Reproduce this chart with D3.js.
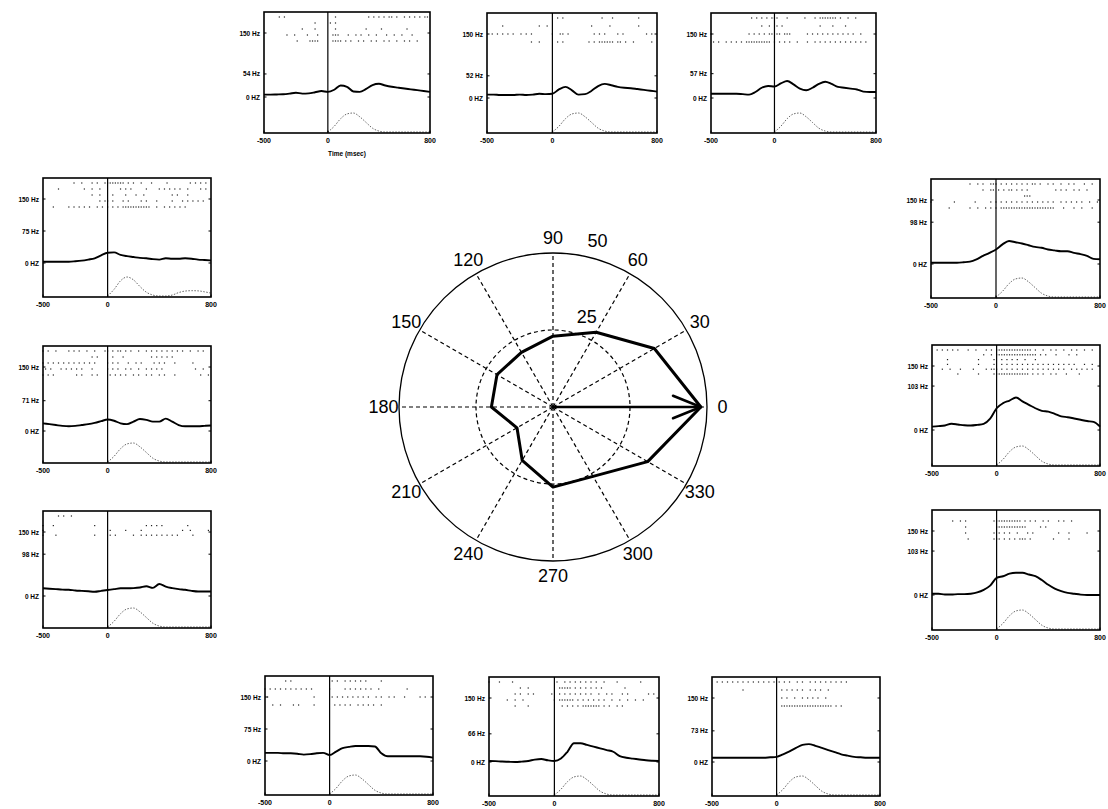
<!DOCTYPE html>
<html>
<head>
<meta charset="utf-8">
<script src="https://cdn.jsdelivr.net/npm/d3@7"></script>
<style>
  body { margin: 0; background: #fff; }
  svg { display: block; font-family: "Liberation Sans", Arial, sans-serif; }
  text { fill: #000; }
</style>
</head>
<body>
<div id="chart"></div>
<script>
// ---- polar tuning data ----
const directions = [0, 30, 60, 90, 120, 150, 180, 210, 240, 270, 300, 330];
const tuningRates = [48, 38, 28, 23, 20.5, 21, 20, 13.5, 20, 26, 26, 35.5];
const radialTicks = [25, 50];
const vectorAngle = 0;
const vectorLength = 48;

// ---- panel data ----
const timeTicks = [-500, 0, 800];
const psthTimes = [-500, -450, -400, -350, -300, -250, -200, -150, -100, -50, 0, 50, 100,
  150, 200, 250, 300, 350, 400, 450, 500, 550, 600, 650, 700, 750, 800];

// stimulus (dotted) trace, normalised
const stimProfile = [0, 0, 0, 0, 0, 0, 0, 0, 0, 0, 0, 0.3, 0.7, 0.95, 1, 0.8, 0.5, 0.2, 0.05, 0,
  0, 0, 0, 0, 0, 0, 0];
const stimProfile150 = [0, 0, 0, 0, 0, 0, 0, 0, 0, 0, 0, 0.35, 0.8, 1, 0.85, 0.5, 0.2, 0.05, 0, 0,
  0.05, 0.18, 0.26, 0.28, 0.27, 0.22, 0.15];

// PSTH rates (Hz) per direction
const rate120 = [5.6, 5.6, 6, 6.5, 8, 10, 8, 8.5, 11, 14, 12, 17, 27, 24, 13, 12, 19, 28, 31, 27, 24, 22, 20, 18, 16, 14, 12];
const rate90  = [8, 8, 7, 7, 7, 8, 7, 8, 10, 9, 10, 20, 26, 18, 8, 9, 17, 28, 33, 30, 26, 24, 23, 21, 19, 17, 15];
const rate60  = [10, 10, 10, 10, 10, 9, 8, 14, 24, 28, 27, 34, 40, 32, 22, 18, 24, 33, 38, 33, 26, 24, 22, 20, 15, 14, 14];
const rate150 = [3, 3, 3, 3, 3, 4, 5.5, 8, 11, 18, 24, 25, 19, 16, 14, 12, 11, 9, 8, 11, 10, 10, 11, 10, 8, 7, 6];
const rate180 = [18, 16, 14, 12, 11, 12, 14, 16, 19, 23, 27, 24, 18, 16, 22, 28, 26, 22, 22, 29, 22, 14, 11, 11, 11, 12, 13];
const rate210 = [18, 17, 16, 15, 14.5, 13, 12, 11, 10, 12, 14, 16, 18, 18, 18.5, 20, 23, 19, 28, 22, 18.5, 16, 14.5, 12, 10.5, 10.5, 10.5];
const rate30  = [3, 3, 3, 3, 3, 4, 5.6, 11, 19, 26, 34, 46, 54, 51, 48, 44, 40, 38, 34, 32, 30, 30, 26, 23, 19, 12, 11];
const rate0   = [8, 9, 10.5, 14.5, 13, 11, 10.5, 12, 14.5, 26.6, 51, 63, 69, 76, 67, 59, 51, 45, 43, 38, 32, 30, 27, 24, 21, 19, 8];
const rate330 = [3, 3, 1, 1, 2, 2, 3, 6, 12, 22, 40, 44, 50, 52, 52, 48, 44, 35, 24, 15, 9, 5, 3, 1, 0, 0, 0];
const rate240 = [19, 19, 19, 18, 18, 17, 15, 16, 18, 19, 14, 22, 30, 33, 35, 35, 35, 34, 18, 11, 11, 11, 11, 11, 11, 10, 8];
const rate270 = [2.4, 2, 1, 0.5, 0, 1, 2.4, 5.6, 7, 4, 2.4, 8, 24, 44, 44, 40, 36, 32, 28, 24, 14, 10, 8, 6, 4, 3, 2.4];
const rate300 = [10, 10, 10, 10, 10, 10, 10, 10, 10, 11, 12, 18, 25, 33, 40, 42, 38, 33, 28, 23, 18, 15, 12, 11, 10, 10, 10];

// rasters: one string per trial, 20 ms per character; before ':' ends at 0 ms, after ':' starts at 0 ms
const spikes120 = [
  "......|.|................:...|............|.|.|.|.||.|..|.|.|.|.||",
  "....................|....:.|.|",
  "...............|....|....:...|...........|.....|.........|",
  ".........|..|....|...|...:..|||...|..|.|..|..|...|..|..|...|",
  ".............|....||||...:..||||.|.|..|.|..|.|..|.|..|..|.|..|"
];
const spikes90 = [
  ".........................:..|.|..............|...|.........|",
  "......|.............|..|.:...............|......|..........|",
  "..|.|.|.|.|..|.|.|.......:|..||.|.........|.|.|....|.|........|.|",
  ".................|..|....:..|.|.........|.|.||||||.||.|..|......|"
];
const spikes60 = [
  "................|.|.|.|.|:||...|......|...|.|||||||.|..|..|",
  "....................|..|.:.|.|..............|....|....|",
  "|..............|.|.|.|.||:.||.|||......|.|.|.|.|.|.|.|.|.|..|",
  ".|.|..|.|.|.|.||||||||||.:|.|.|.|..|...|..|.|.|.|.|.|.|.|.|.|.|"
];
const spikes150 = [
  "............|..|...|.|..|:|||||||.|.|..|...|.....|........|.|.|.|.",
  "......|.........|..|..|..:.....|.|.|.....|....|.|.|.|.|..|....|.|",
  "...................|..|..:..|....|...|..|..........|.|...|",
  "......................|.|:|.|...|.|....|.|...|.....|...|.|.|.|.|",
  "....|.....|.|.|.|.|..|.|.:|.|.|.|||||||||||..|..|.|.|.|.|"
];
const spikes180 = [
  "|.|..|....|.|.|..|..|...|:|.|.||.|.|..|..|.|.|.|.|.|.|.|..|..|.|",
  "...................|.|...:..|...|..........|.|.|.|.|",
  "|.|.|.|.|.|.|.|.|.|.|....:|.|.|...|..|.|....|.|.|...|......|",
  ".|.|...|.|.|.|.|...|.....:|.|.|..|.|..|..|.|.|.|............|..|",
  "|.|.|........|.|...|.|...:.|.|.|.|..|.|..|.|..|.|...|.........|..|"
];
const spikes210 = [
  "......|.|..|.............:",
  "",
  "|...|...............|....:...............|.|.|.|.........|.........|.|",
  "|........................:.|.....|.....|...............|..|......|",
  "|....|..............|....:.|.|......|..|.|.|.|.|.|.|.|.....|.......|",
  ""
];
const spikes30 = [
  "...............|..|.|..||:|.|.|.|.|.|.|.||.|..|.|..|..|.|...|..|...|",
  "....................|..||:.|.|.||.|.|.|..........|.|.|..|.|..|......|",
  ".........................:...........|||",
  "|........|.......|.....|.:|.|.|.|.|.|.|.|.|.|.|.|..|.|.|.|.|..|..|.|.|",
  ".......|.......|..|..|.|.:|.|||||||||||||||||||||...|...|..|...|"
];
const spikes0 = [
  "..|.|.|.|.|...|..|...|.|.:||||||||||||||.|..|..|.|..|..|.|..|..|",
  "....................|..|.:||||||||||||||||.|.|...|....|..|",
  "......|...........|.....|:..|.|.|.|..|...|",
  "......|...........|.....|:..|.|.|.|.|.|.|.|.|.|.|.|.|.|.|...|..|",
  "....|..|...|....|....|.||:|.|.|.|.|.|.|.|.|.|.|.|.|.|..|.|.|.|.|..|",
  "..........|.......|.....|:|||||||||||||.|.|.|..|.|...|....|..."
];
const spikes330 = [
  "",
  "........|..|.|..........|:||||||||||.|.|.|..|.|...|.|..|",
  ".............|...........:||||||||||||.....|.|",
  ".............|..........|:.|.|.|..|...|.|.........|...|......|",
  "..............|.........|:||.|.|.|.|||.|........|.....|"
];
const spikes240 = [
  "........|.|..............:.|.|..|.|.|.|.|.....|",
  "|.|.|.|.|.|.|.|.|.|......:|.....|.|.|.|.|.|..|..........|",
  ".|.................|.....:.|.|.|.|.|.|.|.|..|.|..|.|...|.....|.|",
  "...|..|....|.|.....|.....:..|.|.|.|..|.|.|.|..|"
];
const spikes270 = [
  "|...|....|...............:.|..|.|.|.|.|.|.|..|....|........|",
  "............|..|.........:..|||||.|.|.|.|.|.|........|",
  "..........|.|..|.|......|:..|.|.|.|.|.|.|..|..|.|...|.|.......|.|",
  ".......|..|..|...........:|.||||||.|.|.|.|.|.|..|..|..|..|..|",
  "..........|....|.........:...|.|.|.|.|||||||.|.|..|.|"
];
const spikes300 = [
  "..|.|.|.|.|.|.|.|.|.|.|.|:.|.|.|..|.|..|.|.|.|.|.|.|.|",
  "............|............:..|.|.|.|.|..|.|.|..|",
  ".........................:..|.|..|..|.|.|.|..|",
  ".........................:..||||||||||||||||||||.|.|"
];

const panelDirs = [120, 90, 60, 150, 180, 210, 30, 0, 330, 240, 270, 300];
const peakLabels = [54, 52, 57, 75, 71, 98, 98, 103, 103, 75, 66, 73];
const rates = {120: rate120, 90: rate90, 60: rate60, 150: rate150, 180: rate180, 210: rate210,
  30: rate30, 0: rate0, 330: rate330, 240: rate240, 270: rate270, 300: rate300};
const rasters = {120: spikes120, 90: spikes90, 60: spikes60, 150: spikes150, 180: spikes180, 210: spikes210,
  30: spikes30, 0: spikes0, 330: spikes330, 240: spikes240, 270: spikes270, 300: spikes300};

// ---- layout (left, top, right, bottom of each panel frame) ----
const boxes = {
  120: [264, 12, 430, 133], 90: [487, 13, 657, 133], 60: [711, 13, 876, 133],
  150: [43, 178, 211, 297], 180: [43, 346, 211, 463], 210: [43, 511, 211, 628],
  30: [931, 179, 1100, 298], 0: [932, 345, 1100, 466], 330: [932, 510, 1100, 630],
  240: [265, 676, 433, 795], 270: [489, 677, 659, 796], 300: [712, 677, 880, 796]
};

const width = 1108, height = 809;
const svg = d3.select("#chart").append("svg")
  .attr("width", width)
  .attr("height", height);

// ---------------- polar plot ----------------
const cx = 553, cy = 407, R = 154;
const rScale = d3.scaleLinear().domain([0, 50]).range([0, R]);
const rad = deg => deg * Math.PI / 180;
const polar = svg.append("g").attr("transform", `translate(${cx},${cy})`);

// spokes
polar.selectAll(".spoke")
  .data(directions)
  .join("line")
    .attr("x1", 0).attr("y1", 0)
    .attr("x2", d => rScale(50) * Math.cos(rad(d)))
    .attr("y2", d => -rScale(50) * Math.sin(rad(d)))
    .attr("stroke", "#000")
    .attr("stroke-width", 1.2)
    .attr("stroke-dasharray", "4,3");

// rings
polar.selectAll(".ring")
  .data(radialTicks)
  .join("circle")
    .attr("r", d => rScale(d))
    .attr("fill", "none")
    .attr("stroke", "#000")
    .attr("stroke-width", d => d === 50 ? 1.3 : 1.2)
    .attr("stroke-dasharray", d => d === 50 ? null : "4,3");

// direction labels
polar.selectAll(".dirlabel")
  .data(directions)
  .join("text")
    .attr("x", d => rScale(50) * 1.1 * Math.cos(rad(d)))
    .attr("y", d => -rScale(50) * 1.1 * Math.sin(rad(d)))
    .attr("text-anchor", "middle")
    .attr("dominant-baseline", "central")
    .style("font-size", "18px")
    .text(d => d);

// radial tick labels
polar.selectAll(".rlabel")
  .data(radialTicks)
  .join("text")
    .attr("x", d => rScale(d) * Math.cos(rad(82)) + 13)
    .attr("y", d => -rScale(d) * Math.sin(rad(82)) - 8)
    .attr("text-anchor", "start")
    .style("font-size", "18px")
    .text(d => d);

// tuning curve
const tuning = directions.map((d, i) => ({dir: d, rate: tuningRates[i]}));
polar.append("path")
  .datum(tuning)
  .attr("d", d3.lineRadial()
    .angle(d => rad(90 - d.dir))
    .radius(d => rScale(d.rate))
    .curve(d3.curveLinearClosed))
  .attr("fill", "none")
  .attr("stroke", "#000")
  .attr("stroke-width", 3)
  .attr("stroke-linejoin", "round");

// preferred-direction vector
const tipX = rScale(vectorLength) * Math.cos(rad(vectorAngle));
const tipY = -rScale(vectorLength) * Math.sin(rad(vectorAngle));
polar.append("line")
  .attr("x1", 0).attr("y1", 0).attr("x2", tipX).attr("y2", tipY)
  .attr("stroke", "#000").attr("stroke-width", 2.6);
[-22, 22].forEach(a => {
  polar.append("line")
    .attr("x1", tipX).attr("y1", tipY)
    .attr("x2", tipX - 30 * Math.cos(rad(vectorAngle + a)))
    .attr("y2", tipY + 30 * Math.sin(rad(vectorAngle + a)))
    .attr("stroke", "#000").attr("stroke-width", 2.6).attr("stroke-linecap", "round");
});

// ---------------- raster / PSTH panels ----------------
function parseRow(s) {
  const [pre, post = ""] = s.split(":");
  const times = [];
  for (let j = 0; j < pre.length; j++) if (pre[j] === "|") times.push(-20 * (pre.length - j));
  for (let j = 0; j < post.length; j++) if (post[j] === "|") times.push(20 * j);
  return times.filter(t => t >= -500 && t < 800);
}

panelDirs.forEach((dir, i) => {
  const [left, top, right, bottom] = boxes[dir];
  const g = svg.append("g");

  const x = d3.scaleLinear().domain([-500, 800]).range([left, right]);
  const y = d3.scaleLinear().domain([0, 150]).range([top + 85, top + 21]);
  const ys = d3.scaleLinear().domain([0, 1]).range([bottom - 1, bottom - 20]);

  // raster
  const rows = rasters[dir];
  const rowY = d3.scaleLinear().domain([0, rows.length - 1]).range([top + 5, top + 29]);
  rows.forEach((row, k) => {
    g.append("g").selectAll("rect")
      .data(parseRow(row))
      .join("rect")
        .attr("x", t => x(t) - 0.6)
        .attr("y", rowY(k) - 0.6)
        .attr("width", 1.2)
        .attr("height", 1.2)
        .attr("fill", "#222");
  });

  // stimulus trace
  const stim = dir === 150 ? stimProfile150 : stimProfile;
  g.append("path")
    .datum(psthTimes.map((t, j) => [t, stim[j]]).filter(d => d[1] > 0 || d[0] >= 0))
    .attr("d", d3.line().x(d => x(d[0])).y(d => ys(d[1])).curve(d3.curveMonotoneX))
    .attr("fill", "none")
    .attr("stroke", "#666")
    .attr("stroke-width", 1)
    .attr("stroke-dasharray", "1.5,1.5");

  // PSTH
  g.append("path")
    .datum(psthTimes.map((t, j) => [t, rates[dir][j]]))
    .attr("d", d3.line().x(d => x(d[0])).y(d => y(d[1])).curve(d3.curveMonotoneX))
    .attr("fill", "none")
    .attr("stroke", "#000")
    .attr("stroke-width", 1.9);

  // zero line
  g.append("line")
    .attr("x1", x(0)).attr("x2", x(0)).attr("y1", top).attr("y2", bottom)
    .attr("stroke", "#000").attr("stroke-width", 1.2);

  // frame
  g.append("rect")
    .attr("x", left).attr("y", top)
    .attr("width", right - left).attr("height", bottom - top)
    .attr("fill", "none").attr("stroke", "#000").attr("stroke-width", 1.6);

  // y ticks and labels
  const yTicks = [150, peakLabels[i], 0];
  const yText = [`150 Hz`, `${peakLabels[i]} Hz`, `0 HZ`];
  yTicks.forEach((v, k) => {
    g.append("line").attr("x1", left).attr("x2", left + 2.5).attr("y1", y(v)).attr("y2", y(v))
      .attr("stroke", "#000").attr("stroke-width", 1);
    g.append("line").attr("x1", right).attr("x2", right - 2.5).attr("y1", y(v)).attr("y2", y(v))
      .attr("stroke", "#000").attr("stroke-width", 1);
    g.append("text")
      .attr("x", left - 4).attr("y", y(v))
      .attr("text-anchor", "end")
      .attr("dominant-baseline", "central")
      .style("font-size", "6.5px").style("font-weight", "bold")
      .text(yText[k]);
  });

  // x ticks and labels
  timeTicks.forEach(t => {
    g.append("line").attr("x1", x(t)).attr("x2", x(t)).attr("y1", bottom).attr("y2", bottom - 2.5)
      .attr("stroke", "#000").attr("stroke-width", 1);
    g.append("text")
      .attr("x", x(t)).attr("y", bottom + 9.5)
      .attr("text-anchor", "middle")
      .style("font-size", "7px").style("font-weight", "bold")
      .text(t);
  });

  if (i === 0) {
    g.append("text")
      .attr("x", (left + right) / 2).attr("y", bottom + 22.5)
      .attr("text-anchor", "middle")
      .style("font-size", "6.5px").style("font-weight", "bold")
      .text("Time (msec)");
  }
});
</script>
</body>
</html>
